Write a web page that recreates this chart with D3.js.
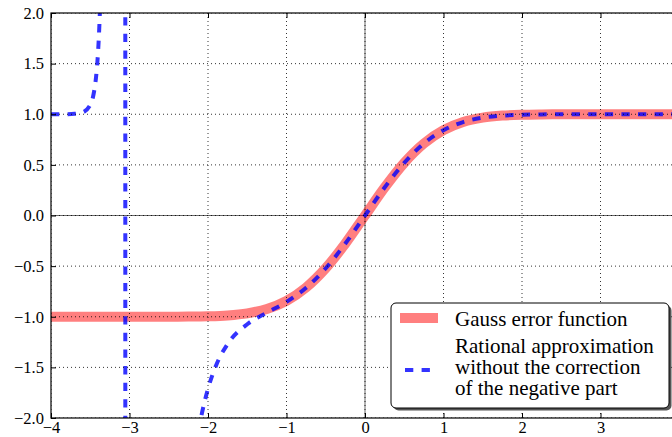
<!DOCTYPE html>
<html>
<head>
<meta charset="utf-8">
<script src="https://cdn.jsdelivr.net/npm/d3@7"></script>
<style>
  body { margin: 0; background: #fff; overflow: hidden; }
</style>
</head>
<body>
<div id="main"></div>
<script>
// Gauss error function
const erfX = [-4, -3.75, -3.5, -3.25, -3, -2.75, -2.5, -2.25, -2, -1.75, -1.5, -1.25, -1, -0.75, -0.5, -0.25,
              0, 0.25, 0.5, 0.75, 1, 1.25, 1.5, 1.75, 2, 2.25, 2.5, 2.75, 3, 3.25, 3.5, 3.75, 4];
const erfY = [-1, -1, -1, -1, -1, -0.9999, -0.9996, -0.9985, -0.9953, -0.9867, -0.9661, -0.9229, -0.8427, -0.7112, -0.5205, -0.2763,
              0, 0.2763, 0.5205, 0.7112, 0.8427, 0.9229, 0.9661, 0.9867, 0.9953, 0.9985, 0.9996, 0.9999, 1, 1, 1, 1, 1];

// rational approximation (blue dashes), incl. the jump at about x = -3.05
const approxX = [-4, -3.9, -3.8, -3.7, -3.6, -3.5, -3.45, -3.425, -3.4, -3.39, -3.375, -3.055, -3.052,
                 -2.2, -2.15, -2.1, -2.05, -2, -1.9, -1.75, -1.5, -1.25, -1, -0.75, -0.5, -0.25,
                 0, 0.25, 0.5, 0.75, 1, 1.25, 1.5, 1.75, 2, 2.25, 2.5, 2.75, 3, 3.25, 3.5, 3.75, 4];
const approxY = [1.0001, 1.0002, 1.0009, 1.0038, 1.0174, 1.092, 1.231, 1.375, 1.622, 1.768, 2.059, 30, -30,
                 -2.544, -2.264, -2.04, -1.859, -1.711, -1.486, -1.269, -1.074, -0.960, -0.8535, -0.7137, -0.5209, -0.2763,
                 0, 0.2763, 0.5205, 0.7112, 0.8427, 0.9229, 0.9661, 0.9867, 0.9953, 0.9985, 0.9996, 0.9999, 1, 1, 1, 1, 1];

const xTicks = [-4, -3, -2, -1, 0, 1, 2, 3, 4];
const yTicks = [-2, -1.5, -1, -0.5, 0, 0.5, 1, 1.5, 2];
const legendLabels = [
  ["Gauss error function"],
  ["Rational approximation", "without the correction", "of the negative part"]
];

const ctx = {
  width: 672,
  height: 437,
  left: 51,
  right: 679,
  top: 13,
  bottom: 418,
  font: '"Liberation Serif", "Times New Roman", serif',
  red: "rgba(255,0,0,0.5)",
  blue: "rgba(0,0,255,0.8)"
};

function createViz() {
  const svg = d3.select("#main")
    .append("svg")
    .attr("width", ctx.width)
    .attr("height", ctx.height);

  const x = d3.scaleLinear().domain([-4, 4]).range([ctx.left, ctx.right]);
  const y = d3.scaleLinear().domain([-2, 2]).range([ctx.bottom, ctx.top]);

  svg.append("clipPath").attr("id", "plotclip")
    .append("rect")
    .attr("x", ctx.left).attr("y", ctx.top)
    .attr("width", ctx.right - ctx.left).attr("height", ctx.bottom - ctx.top);

  const plot = svg.append("g").attr("clip-path", "url(#plotclip)");

  // thin zero lines
  plot.append("line")
    .attr("x1", ctx.left).attr("x2", ctx.right)
    .attr("y1", y(0)).attr("y2", y(0))
    .attr("stroke", "#000").attr("stroke-width", 0.6);
  plot.append("line")
    .attr("x1", x(0)).attr("x2", x(0))
    .attr("y1", ctx.top).attr("y2", ctx.bottom)
    .attr("stroke", "#000").attr("stroke-width", 0.6);

  const line = d3.line().curve(d3.curveMonotoneX);

  plot.append("path")
    .datum(erfX.map((v, i) => [x(v), y(erfY[i])]))
    .attr("d", line)
    .attr("fill", "none")
    .attr("stroke", ctx.red)
    .attr("stroke-width", 10);

  plot.append("path")
    .datum(approxX.map((v, i) => [x(v), y(approxY[i])]))
    .attr("d", line)
    .attr("fill", "none")
    .attr("stroke", ctx.blue)
    .attr("stroke-width", 4)
    .attr("stroke-dasharray", "8.3,8.3");

  // dotted grid, on top of the curves
  const grid = plot.append("g")
    .attr("stroke", "#000")
    .attr("stroke-width", 0.8)
    .attr("stroke-dasharray", "1,3");
  grid.selectAll("line.gx").data(xTicks).enter().append("line")
    .attr("x1", d => x(d)).attr("x2", d => x(d))
    .attr("y1", ctx.top).attr("y2", ctx.bottom);
  grid.selectAll("line.gy").data(yTicks).enter().append("line")
    .attr("x1", ctx.left).attr("x2", ctx.right)
    .attr("y1", d => y(d)).attr("y2", d => y(d));

  // axes, ticks pointing inwards on all four sides
  const fmtY = d3.format(".1f");
  const fmtX = d3.format("d");

  // the tick at x = 4 sits on the right spine, outside the window
  svg.append("g")
    .attr("transform", `translate(0,${ctx.bottom})`)
    .call(d3.axisBottom(x).tickValues(xTicks.slice(0, -1)).tickFormat(fmtX).tickSizeInner(-5).tickSizeOuter(0).tickPadding(3))
    .call(g => g.select(".domain").remove());
  svg.append("g")
    .attr("transform", `translate(0,${ctx.top})`)
    .call(d3.axisTop(x).tickValues(xTicks).tickFormat("").tickSizeInner(-5).tickSizeOuter(0))
    .call(g => g.select(".domain").remove());
  svg.append("g")
    .attr("transform", `translate(${ctx.left},0)`)
    .call(d3.axisLeft(y).tickValues(yTicks).tickFormat(fmtY).tickSizeInner(-5).tickSizeOuter(0).tickPadding(7))
    .call(g => g.select(".domain").remove());
  svg.append("g")
    .attr("transform", `translate(${ctx.right},0)`)
    .call(d3.axisRight(y).tickValues(yTicks).tickFormat("").tickSizeInner(-5).tickSizeOuter(0))
    .call(g => g.select(".domain").remove());

  svg.selectAll(".tick text")
    .style("font-family", ctx.font)
    .style("font-size", "16.5px")
    .style("fill", "#000");
  svg.selectAll(".tick line").attr("stroke", "#000").attr("stroke-width", 1);

  svg.append("rect")
    .attr("x", ctx.left).attr("y", ctx.top)
    .attr("width", ctx.right - ctx.left).attr("height", ctx.bottom - ctx.top)
    .attr("fill", "none")
    .attr("stroke", "#000")
    .attr("stroke-width", 1.2);

  // legend
  const lg = svg.append("g").attr("transform", "translate(391,303)");
  lg.append("rect")
    .attr("x", 2.5).attr("y", 2.5)
    .attr("width", 278).attr("height", 105).attr("rx", 5)
    .attr("fill", "#555");
  lg.append("rect")
    .attr("width", 278).attr("height", 105).attr("rx", 5)
    .attr("fill", "#fff")
    .attr("stroke", "#000")
    .attr("stroke-width", 1);

  lg.append("line")
    .attr("x1", 9).attr("x2", 47).attr("y1", 15).attr("y2", 15)
    .attr("stroke", ctx.red).attr("stroke-width", 10);
  lg.append("line")
    .attr("x1", 9).attr("x2", 47).attr("y1", 67).attr("y2", 67)
    .attr("stroke", ctx.blue).attr("stroke-width", 4)
    .attr("stroke-dasharray", "8.3,8.3").attr("stroke-dashoffset", 11.6);

  const baselines = [[23], [50, 71, 92]];
  legendLabels.forEach((lines, i) => {
    lines.forEach((t, j) => {
      lg.append("text")
        .attr("x", 64).attr("y", baselines[i][j])
        .style("font-family", ctx.font)
        .style("font-size", "21px")
        .style("fill", "#000")
        .text(t);
    });
  });
}

createViz();
</script>
</body>
</html>
